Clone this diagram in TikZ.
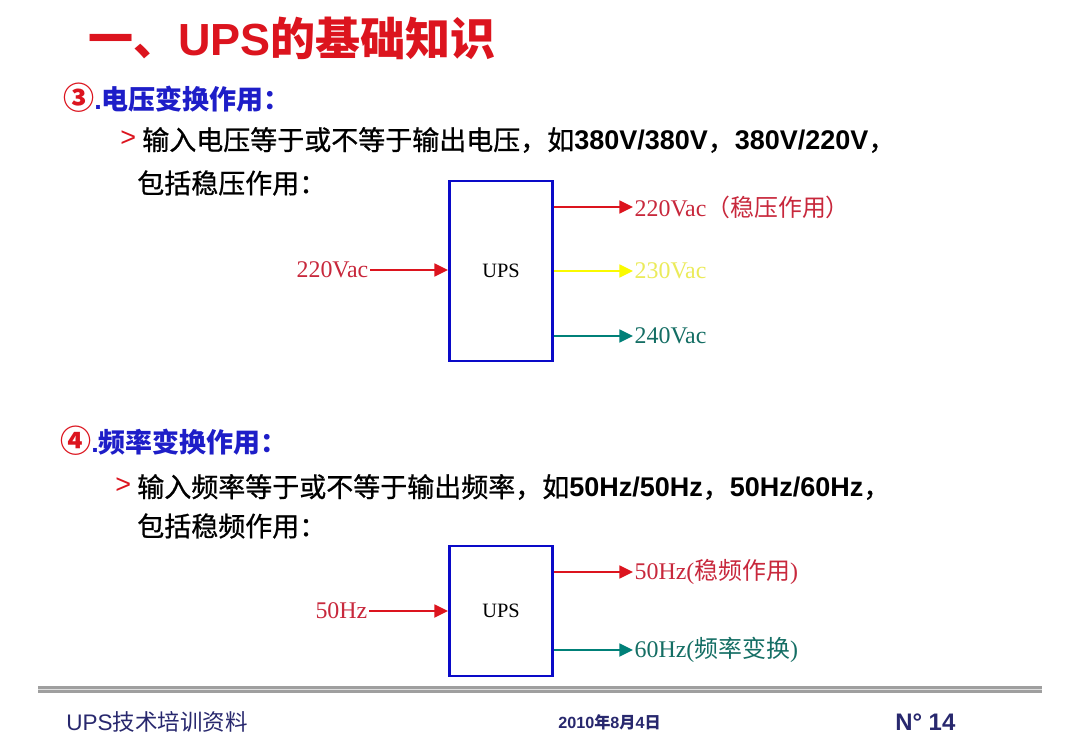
\documentclass[tikz,border=0pt]{standalone}
\usepackage{fontspec}
\setmainfont{Liberation Sans}
\newfontfamily\cjk{Noto Sans CJK SC}
\newfontfamily\cjkm[FakeBold=0.8]{Noto Sans CJK SC}
\newfontfamily\lserif{Liberation Serif}
\usetikzlibrary{arrows.meta,positioning}
\definecolor{upsred}{RGB}{220,20,30}
\definecolor{upsblue}{RGB}{30,30,200}
\definecolor{upsline}{RGB}{10,10,200}
\definecolor{upstxtred}{RGB}{200,40,60}
\definecolor{upsyel}{RGB}{250,250,0}
\definecolor{upstxtyel}{RGB}{235,235,90}
\definecolor{upsteal}{RGB}{0,128,120}
\definecolor{upstxtteal}{RGB}{20,110,100}
\definecolor{upsnavy}{RGB}{40,40,110}
\newcommand{\ftitle}{\fontsize{32pt}{36pt}\selectfont}
\newcommand{\fhead}{\fontsize{19.2pt}{23pt}\selectfont}
\newcommand{\flbl}{\fontsize{17pt}{20pt}\selectfont}
\newcommand{\fups}{\fontsize{14.5pt}{17pt}\selectfont}
\newcommand{\ffoot}{\fontsize{16pt}{19pt}\selectfont}

\begin{document}
\begin{tikzpicture}[
    x=0.025cm, y=-0.025cm,
    txt/.style={anchor=west, inner sep=0pt},
    head/.style={txt, font=\fhead\bfseries, text=upsblue},
    bul/.style={txt, font=\fhead},
    upsbox/.style={draw=upsline, line width=2pt, minimum width=2.58cm, align=center, font=\lserif\fups},
    lbl/.style={inner sep=1pt, font=\lserif\flbl},
    arr/.style={-{Triangle[length=3.4mm, width=3.2mm]}, line width=1.7pt}
  ]
    \useasboundingbox[fill=white] (0,0) rectangle (1080,748);

    % title
    \node[txt, font=\ftitle\bfseries, text=upsred] (title) at (88,38) {{\cjk 一、}UPS{\cjk 的基础知识}};

    % voltage section
    \node[head] (hdvolt) at (63,98) {{\cjk\color{upsred}\scalebox{1.15}{③}}.{\cjk 电压变换作用：}};
    \node[bul, text=upsred] (bvolt) at (120,139) {>};
    \node[bul] (lvolt) at (142,140) {{\cjkm 输入电压等于或不等于输出电压，如}\textbf{380V/380V}{\cjkm ，}\textbf{380V/220V}{\cjkm ，}};
    \node[bul] (lvolt2) at (137,183) {\cjkm 包括稳压作用：};

    \node[upsbox, minimum height=4.5cm] (upsv) at (501,271) {UPS};
    \node[lbl, anchor=east, text=upstxtred] (vin) at (370,270) {220Vac};
    \node[lbl, anchor=west, text=upstxtred] (vouta) at (633,207) {220Vac{\cjk （稳压作用）}};
    \node[lbl, anchor=west, text=upstxtyel] (voutb) at (633,271) {230Vac};
    \node[lbl, anchor=west, text=upstxtteal] (voutc) at (633,336) {240Vac};

    \draw[arr, draw=upsred, fill=upsred] (vin.east) -- (upsv.west |- vin.east);
    \draw[arr, draw=upsred, fill=upsred] (upsv.east |- vouta.west) -- (vouta.west);
    \draw[arr, draw=upsyel, fill=upsyel] (upsv.east |- voutb.west) -- (voutb.west);
    \draw[arr, draw=upsteal, fill=upsteal] (upsv.east |- voutc.west) -- (voutc.west);

    % frequency section
    \node[head] (hdfreq) at (60,441) {{\cjk\color{upsred}\scalebox{1.15}{④}}.{\cjk 频率变换作用：}};
    \node[bul, text=upsred] (bfreq) at (115,486) {>};
    \node[bul] (lfreq) at (137,487) {{\cjkm 输入频率等于或不等于输出频率，如}\textbf{50Hz/50Hz}{\cjkm ，}\textbf{50Hz/60Hz}{\cjkm ，}};
    \node[bul] (lfreq2) at (137,526) {\cjkm 包括稳频作用：};

    \node[upsbox, minimum height=3.25cm] (upsf) at (501,611) {UPS};
    \node[lbl, anchor=east, text=upstxtred] (fin) at (369,611) {50Hz};
    \node[lbl, anchor=west, text=upstxtred] (fouta) at (633,572) {50Hz({\cjk 稳频作用})};
    \node[lbl, anchor=west, text=upstxtteal] (foutb) at (633,650) {60Hz({\cjk 频率变换})};

    \draw[arr, draw=upsred, fill=upsred] (fin.east) -- (upsf.west |- fin.east);
    \draw[arr, draw=upsred, fill=upsred] (upsf.east |- fouta.west) -- (fouta.west);
    \draw[arr, draw=upsteal, fill=upsteal] (upsf.east |- foutb.west) -- (foutb.west);

    % footer
    \fill[gray!75] (38,686) rectangle (1042,693);
    \draw[gray!25, line width=0.7pt] (38,689.5) -- (1042,689.5);
    \node[txt, font=\ffoot, text=upsnavy] (ftname) at (66,722) {UPS{\cjk 技术培训资料}};
    \node[txt, font=\fontsize{11.5pt}{13pt}\selectfont\bfseries, text=upsnavy] (ftdate) at (558,722) {2010{\cjk 年}8{\cjk 月}4{\cjk 日}};
    \node[txt, font=\fontsize{17pt}{20pt}\selectfont\bfseries, text=upsnavy] (ftpage) at (895,722) {N° 14};
\end{tikzpicture}
\end{document}
